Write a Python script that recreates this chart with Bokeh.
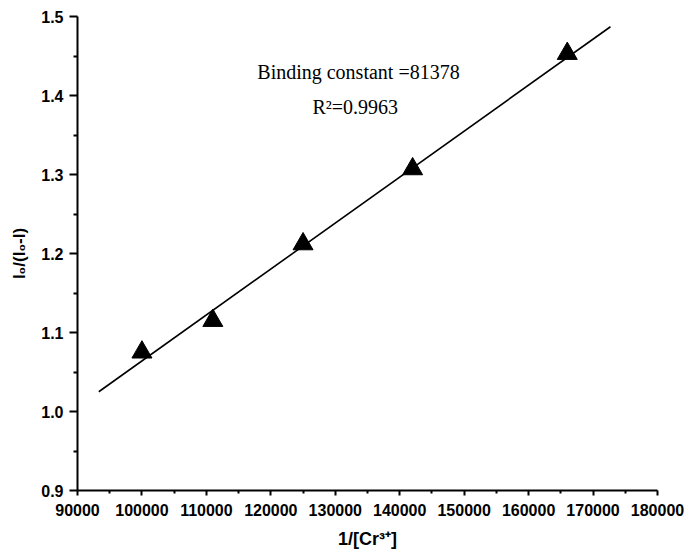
from bokeh.plotting import figure
from bokeh.models import Range1d, FixedTicker, PrintfTickFormatter, Label, ColumnDataSource
from bokeh.embed import file_html
from bokeh.resources import INLINE

# Data
inv_cr = [100000, 111000, 125000, 142000, 166000]
ratio = [1.075, 1.115, 1.212, 1.307, 1.453]

# Linear fit line (endpoints as drawn)
fit_x = [93300, 172700]
fit_y = [1.025, 1.487]

x_ticks = [90000, 100000, 110000, 120000, 130000, 140000, 150000, 160000, 170000, 180000]
x_minor = [95000, 105000, 115000, 125000, 135000, 145000, 155000, 165000, 175000]
y_ticks = [0.9, 1.0, 1.1, 1.2, 1.3, 1.4, 1.5]
y_minor = [0.95, 1.05, 1.15, 1.25, 1.35, 1.45]

ann_text = ["Binding constant =81378", "R\u00b2=0.9963"]
ann_x = [133600, 133100]
ann_y = [1.430, 1.385]

p = figure(width=700, height=560, output_backend="svg", toolbar_location=None,
           x_range=Range1d(90000, 180000), y_range=Range1d(0.9, 1.5),
           min_border_left=77, min_border_right=43, min_border_top=16, min_border_bottom=70)
p.outline_line_color = None
p.xgrid.visible = False
p.ygrid.visible = False
p.background_fill_color = "white"

p.line(fit_x, fit_y, line_color="black", line_width=1.6)
src = ColumnDataSource(dict(x=inv_cr, y=ratio))
p.scatter("x", "y", source=src, marker="triangle", size=20, fill_color="black", line_color="black")

for t, x, y in zip(ann_text, ann_x, ann_y):
    p.add_layout(Label(x=x, y=y, text=t, text_font="Liberation Serif", text_font_size="20px",
                       text_align="center", text_baseline="middle", text_color="black"))

xa = p.xaxis[0]
xa.ticker = FixedTicker(ticks=x_ticks, minor_ticks=x_minor)
xa.formatter = PrintfTickFormatter(format="%d")
xa.axis_label = "1/[Cr\u00b3\u207a]"
ya = p.yaxis[0]
ya.ticker = FixedTicker(ticks=y_ticks, minor_ticks=y_minor)
ya.formatter = PrintfTickFormatter(format="%.1f")
ya.axis_label = "I\u2080/(I\u2080-I)"

for ax in (xa, ya):
    ax.axis_line_width = 2
    ax.axis_line_color = "black"
    ax.major_tick_line_width = 2
    ax.minor_tick_line_width = 2
    ax.major_tick_line_color = "black"
    ax.minor_tick_line_color = "black"
    ax.major_tick_in = 0
    ax.minor_tick_in = 0
    ax.major_label_text_font = "Liberation Sans"
    ax.major_label_text_font_style = "bold"
    ax.major_label_text_color = "black"
    ax.axis_label_text_font = "Liberation Sans"
    ax.axis_label_text_font_style = "bold"
    ax.axis_label_text_color = "black"

xa.major_tick_out = 5
xa.minor_tick_out = 3
xa.major_label_text_font_size = "16px"
xa.major_label_standoff = 8
xa.axis_label_text_font_size = "18px"
xa.axis_label_standoff = 10

ya.major_tick_out = 8
ya.minor_tick_out = 4
ya.major_label_text_font_size = "16px"
ya.major_label_standoff = 6
ya.axis_label_text_font_size = "17px"
ya.axis_label_standoff = 9

open("out.html", "w").write(file_html(p, INLINE))
